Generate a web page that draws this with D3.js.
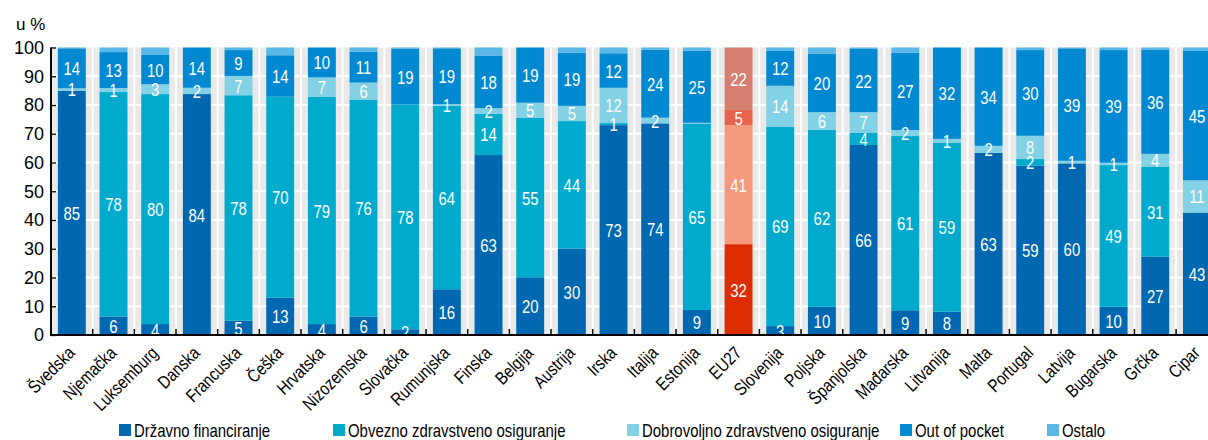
<!DOCTYPE html>
<html>
<head>
<meta charset="utf-8">
<script src="https://cdn.jsdelivr.net/npm/d3@7"></script>
<style>
	body { margin: 0; background: #fff; }
	svg { display: block; }
	text { font-family: "Liberation Sans", Arial, sans-serif; }
</style>
</head>
<body>
<div id="chart"></div>
<script>
	const countries = ["Švedska", "Njemačka", "Luksemburg", "Danska", "Francuska", "Češka", "Hrvatska",
		"Nizozemska", "Slovačka", "Rumunjska", "Finska", "Belgija", "Austrija", "Irska", "Italija",
		"Estonija", "EU27", "Slovenija", "Poljska", "Španjolska", "Mađarska", "Litvanija", "Malta",
		"Portugal", "Latvija", "Bugarska", "Grčka", "Cipar"];

	// shares in %
	const drzavno = [85.0, 6.4, 3.8, 83.8, 5.0, 13.0, 3.8, 6.4, 2.0, 15.9, 62.6, 20.1, 30.1, 73.0, 73.6,
		8.7, 31.6, 3.1, 9.8, 66.1, 8.6, 8.1, 63.4, 58.9, 59.7, 9.8, 27.2, 42.6];
	const obvezno = [0, 78.1, 80.0, 0, 78.4, 69.9, 79.0, 75.5, 78.2, 63.8, 14.3, 55.4, 44.3, 0.7, 0,
		64.7, 41.4, 69.4, 61.5, 4.3, 60.6, 58.8, 0, 2.3, 0, 49.3, 31.4, 0];
	const dobrovoljno = [0.8, 1.4, 3.4, 2.2, 6.7, 0, 6.8, 5.9, 0, 0.6, 2.0, 5.3, 5.3, 12.3, 2.0,
		0.4, 5.3, 14.2, 6.2, 7.1, 2.1, 1.3, 2.4, 8.1, 0.9, 0.8, 4.4, 11.2];
	const outOfPocket = [13.9, 12.5, 10.2, 14.0, 9.0, 14.4, 10.4, 10.7, 19.4, 19.4, 18.3, 19.2, 18.5, 12.0, 23.6,
		25.1, 21.7, 12.1, 20.4, 22.0, 26.9, 31.8, 34.2, 29.8, 39.1, 39.2, 36.3, 45.0];
	const ostalo = [0.3, 1.6, 2.6, 0, 0.9, 2.7, 0, 1.5, 0.4, 0.3, 2.8, 0, 1.8, 2.0, 0.8,
		1.1, 0, 1.2, 2.1, 0.5, 1.8, 0, 0, 0.9, 0.3, 0.9, 0.7, 1.2];

	const seriesNames = ["Državno financiranje", "Obvezno zdravstveno osiguranje",
		"Dobrovoljno zdravstveno osiguranje", "Out of pocket", "Ostalo"];
	const yTicks = [0, 10, 20, 30, 40, 50, 60, 70, 80, 90, 100];

	const colors = ["#0067b1", "#00aacd", "#82d1e4", "#0088d1", "#5ab8e8"];
	const euColors = ["#dc2e02", "#f4997b", "#e5644b", "#d5806f", "#e6a190"];
	const highlight = "EU27";

	const keys = ["drzavno", "obvezno", "dobrovoljno", "oop", "ostalo"];
	const table = countries.map((c, i) => ({
		country: c,
		drzavno: drzavno[i],
		obvezno: obvezno[i],
		dobrovoljno: dobrovoljno[i],
		oop: outOfPocket[i],
		ostalo: ostalo[i]
	}));

	const width = 1208, height = 440;
	const plot = { left: 51, top: 47.5, bottom: 335 };
	const step = 41.67;
	const squeeze = 0.83; // no narrow font installed, so compress horizontally

	const svg = d3.select("#chart").append("svg")
		.attr("width", width)
		.attr("height", height);

	const x = d3.scaleBand()
		.domain(countries)
		.range([plot.left, plot.left + step * countries.length])
		.paddingInner(0.33)
		.paddingOuter(0.165);

	const y = d3.scaleLinear()
		.domain([0, 100])
		.range([plot.bottom, plot.top]);

	// grey panel with white grid
	svg.append("rect")
		.attr("x", plot.left)
		.attr("y", plot.top)
		.attr("width", width - plot.left)
		.attr("height", plot.bottom - plot.top)
		.attr("fill", "#e9e9e9");

	svg.append("g").selectAll("line")
		.data(yTicks.filter(t => t > 0 && t < 100))
		.enter().append("line")
		.attr("x1", plot.left).attr("x2", width)
		.attr("y1", d => y(d)).attr("y2", d => y(d))
		.attr("stroke", "#fff").attr("stroke-width", 2);

	const bounds = countries.slice(1).map(c => x(c) - x.step() * x.paddingInner() / 2);
	svg.append("g").selectAll("line")
		.data(bounds)
		.enter().append("line")
		.attr("x1", d => d).attr("x2", d => d)
		.attr("y1", plot.top).attr("y2", plot.bottom)
		.attr("stroke", "#fff").attr("stroke-width", 2);

	// bars
	const stacked = d3.stack().keys(keys)(table);
	const layers = svg.append("g").selectAll("g")
		.data(stacked)
		.enter().append("g");

	layers.selectAll("rect")
		.data((s, k) => s.map(d => ({ d: d, k: k })))
		.enter().append("rect")
		.attr("x", o => x(o.d.data.country))
		.attr("width", x.bandwidth())
		.attr("y", o => y(o.d[1]))
		.attr("height", o => y(o.d[0]) - y(o.d[1]))
		.attr("fill", o => o.d.data.country == highlight ? euColors[o.k] : colors[o.k]);

	// value labels (not for "Ostalo")
	const labels = [];
	stacked.forEach((s, k) => {
		if (k == 4) return;
		s.forEach(d => {
			const v = d[1] - d[0];
			if (Math.round(v) >= 1) labels.push({ c: d.data.country, v: v, mid: (d[0] + d[1]) / 2 });
		});
	});
	svg.append("g").selectAll("text")
		.data(labels)
		.enter().append("text")
		.attr("transform", d => `translate(${x(d.c) + x.bandwidth() / 2},${y(d.mid) + 7}) scale(${squeeze},1)`)
		.attr("text-anchor", "middle")
		.attr("fill", "#fff")
		.style("font-size", "18px")
		.text(d => Math.round(d.v));

	// axes
	const yAxisG = svg.append("g")
		.attr("transform", `translate(${plot.left},0)`)
		.call(d3.axisLeft(y).tickValues(yTicks).tickSize(-5).tickPadding(7));
	yAxisG.select(".domain").remove();
	yAxisG.selectAll("text").style("font-size", "18px").attr("fill", "#000").attr("font-family", null);
	yAxisG.selectAll("line").attr("stroke", "#000").attr("stroke-width", 1.3);

	svg.append("line")
		.attr("x1", plot.left).attr("x2", plot.left)
		.attr("y1", plot.top).attr("y2", plot.bottom + 1)
		.attr("stroke", "#000").attr("stroke-width", 2);
	svg.append("line")
		.attr("x1", plot.left).attr("x2", width)
		.attr("y1", plot.bottom).attr("y2", plot.bottom)
		.attr("stroke", "#000").attr("stroke-width", 2);

	svg.append("g").selectAll("line")
		.data(bounds)
		.enter().append("line")
		.attr("x1", d => d).attr("x2", d => d)
		.attr("y1", plot.bottom).attr("y2", plot.bottom - 6)
		.attr("stroke", "#000").attr("stroke-width", 1.5);

	svg.append("g").selectAll("text")
		.data(countries)
		.enter().append("text")
		.attr("text-anchor", "end")
		.attr("transform", d => `translate(${x(d) + x.bandwidth() / 2 + 4},${plot.bottom + 19}) rotate(-45) scale(${squeeze},1)`)
		.style("font-size", "18px")
		.text(d => d);

	svg.append("text")
		.attr("x", 16).attr("y", 30)
		.style("font-size", "17px")
		.text("u %");

	// legend
	const legendX = [119, 333, 627, 900, 1047];
	const legend = svg.append("g").selectAll("g")
		.data(seriesNames)
		.enter().append("g")
		.attr("transform", (d, i) => `translate(${legendX[i]},424)`);
	legend.append("rect")
		.attr("width", 12).attr("height", 12)
		.attr("fill", (d, i) => colors[i]);
	legend.append("text")
		.attr("transform", `translate(15,12.5) scale(${squeeze},1)`)
		.style("font-size", "18px")
		.text(d => d);
</script>
</body>
</html>
